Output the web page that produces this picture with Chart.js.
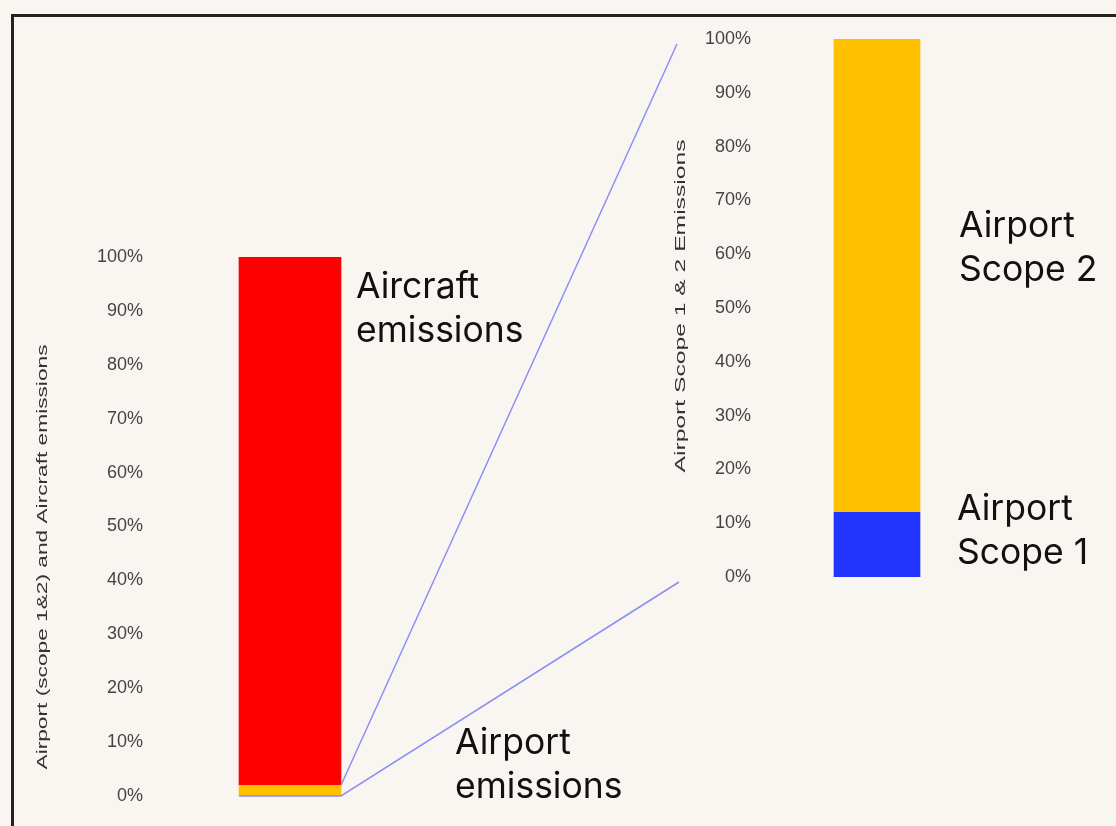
<!DOCTYPE html>
<html>
<head>
<meta charset="utf-8">
<script src="https://cdn.jsdelivr.net/npm/chart.js@4.4.1/dist/chart.umd.min.js"></script>
<style>
  html, body { margin: 0; padding: 0; background: #f9f5f1; }
  #stage { position: relative; width: 1116px; height: 826px; overflow: hidden; background: #f9f5f1; }
  #frame { position: absolute; left: 11px; top: 14px; width: 1200px; height: 900px;
           border-top: 3px solid #222; border-left: 3px solid #222; }
  canvas { position: absolute; left: 0; top: 0; }
  .note { position: absolute; font-family: Inter, "Noto Sans", sans-serif; font-size: 35.5px;
          line-height: 44px; color: #111; white-space: nowrap; }
</style>
</head>
<body>
<div id="stage">
  <div id="frame"></div>
  <canvas id="left" width="1116" height="826"></canvas>
  <canvas id="right" width="1116" height="826"></canvas>
  <div class="note" style="left:356px; top:264px;">Aircraft<br>emissions</div>
  <div class="note" style="left:455px; top:720px;">Airport<br>emissions</div>
  <div class="note" style="left:959px; top:203px;">Airport<br>Scope 2</div>
  <div class="note" style="left:957px; top:486px;">Airport<br>Scope 1</div>
</div>
<script>
// values in percent
const totalCategories = ['All emissions'];
const airportShare = [2];
const aircraftShare = [98];

const airportCategories = ['Airport emissions'];
const scope1Share = [12];
const scope2Share = [88];

const leftTitle = 'Airport (scope 1&2) and Aircraft emissions';
const rightTitle = 'Airport Scope 1 & 2 Emissions';

const RED = '#ff0000';
const YELLOW = '#ffc000';
const BLUE = '#2135ff';
const LINK = '#8a8ff5';

// rotated axis title, stretched along its length like the original
const sideTitle = {
    id: 'sideTitle',
    afterDraw(chart, args, opts) {
        const ctx = chart.ctx;
        ctx.save();
        ctx.font = '15px "Liberation Sans", Arial, sans-serif';
        ctx.fillStyle = '#333';
        ctx.textAlign = 'center';
        ctx.textBaseline = 'middle';
        const w = ctx.measureText(opts.text).width;
        ctx.translate(opts.x, opts.y);
        ctx.rotate(-Math.PI / 2);
        ctx.scale(opts.length / w, 1);
        ctx.fillText(opts.text, 0, 0);
        ctx.restore();
    }
};

function yAxis() {
    return {
        stacked: true,
        min: 0,
        max: 100,
        grid: { display: false, drawTicks: false },
        border: { display: false },
        ticks: {
            stepSize: 10,
            padding: 7,
            color: '#444',
            font: { family: '"Liberation Sans", Arial, sans-serif', size: 18 },
            callback(value) {
                return value + '%';
            }
        },
        afterFit(scale) {
            scale.width = 70;
        }
    };
}

const leftChart = new Chart(document.getElementById('left').getContext('2d'), {
    type: 'bar',
    data: {
        labels: totalCategories,
        datasets: [
            { label: 'Airport', data: airportShare, backgroundColor: YELLOW, barThickness: 102 },
            { label: 'Aircraft', data: aircraftShare, backgroundColor: RED, barThickness: 102 }
        ]
    },
    options: {
        responsive: false,
        animation: false,
        devicePixelRatio: 1,
        layout: { padding: { left: 80, right: 686, top: 257, bottom: 30 } },
        scales: {
            x: { stacked: true, display: false },
            y: yAxis()
        },
        plugins: {
            legend: { display: false },
            tooltip: { enabled: false },
            sideTitle: { text: leftTitle, x: 43, y: 557, length: 425 }
        }
    },
    plugins: [sideTitle]
});

// lines joining the airport slice of the left bar to the zoomed bar
const connector = {
    id: 'connector',
    afterDraw(chart) {
        const bar = leftChart.getDatasetMeta(0).data[0];
        const ly = leftChart.scales.y;
        const ry = chart.scales.y;
        const x0 = bar.x - bar.width / 2;
        const x1 = bar.x + bar.width / 2;
        const xEnd = ry.left - 11;
        const ctx = chart.ctx;
        ctx.save();
        ctx.strokeStyle = LINK;
        ctx.lineWidth = 1.5;
        ctx.beginPath();
        ctx.moveTo(x1, ly.getPixelForValue(airportShare[0]));
        ctx.lineTo(xEnd, ry.getPixelForValue(100) + 5);
        ctx.moveTo(x0, ly.getPixelForValue(0));
        ctx.lineTo(x1, ly.getPixelForValue(0));
        ctx.lineTo(xEnd + 2, ry.getPixelForValue(0) + 5);
        ctx.stroke();
        ctx.restore();
    }
};

new Chart(document.getElementById('right').getContext('2d'), {
    type: 'bar',
    data: {
        labels: airportCategories,
        datasets: [
            { label: 'Airport Scope 1', data: scope1Share, backgroundColor: BLUE, barThickness: 86 },
            { label: 'Airport Scope 2', data: scope2Share, backgroundColor: YELLOW, barThickness: 86 }
        ]
    },
    options: {
        responsive: false,
        animation: false,
        devicePixelRatio: 1,
        layout: { padding: { left: 688, right: 120, top: 39, bottom: 249 } },
        scales: {
            x: { stacked: true, display: false },
            y: yAxis()
        },
        plugins: {
            legend: { display: false },
            tooltip: { enabled: false },
            sideTitle: { text: rightTitle, x: 681, y: 306, length: 333 }
        }
    },
    plugins: [sideTitle, connector]
});
</script>
</body>
</html>
